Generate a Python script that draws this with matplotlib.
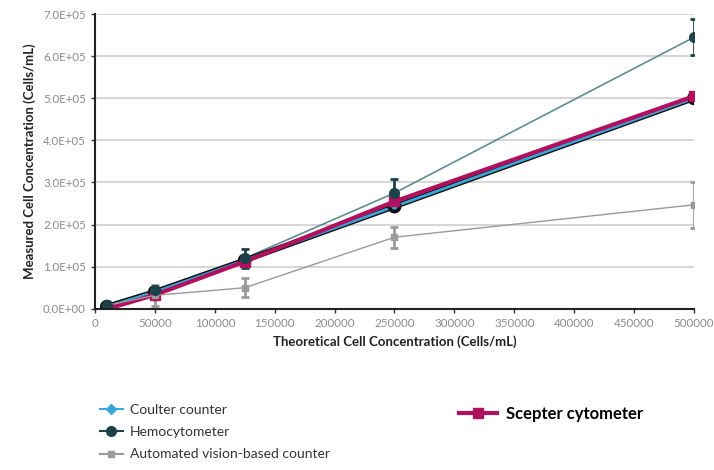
import matplotlib
matplotlib.use("Agg")
import matplotlib.pyplot as plt
import matplotlib.patheffects as pe
from matplotlib.lines import Line2D
from matplotlib.ticker import FuncFormatter

plt.rcParams['font.family'] = ['Lato', 'DejaVu Sans']

# theoretical concentrations (cells/mL)
x_ref = [10000, 50000, 125000, 250000, 500000]
x_scepter = [13000, 50000, 125000, 250000, 500000]

# measured concentrations
coulter = [5000, 40000, 115000, 243000, 500000]
hemo = [10000, 45000, 120000, 275000, 645000]
hemo_err = [4000, 5000, 22000, 33000, 43000]
auto = [8000, 32000, 50000, 170000, 247000]
auto_err = [3000, 25000, 22000, 25000, 55000]
scepter = [2000, 33000, 112000, 255000, 505000]

x_ticks = [0, 50000, 100000, 150000, 200000, 250000, 300000, 350000, 400000, 450000, 500000]
y_ticks = [0, 100000, 200000, 300000, 400000, 500000, 600000, 700000]

fig = plt.figure(figsize=(7.14, 4.70), dpi=100)
ax = fig.add_axes([0.133, 0.343, 0.839, 0.627])

# automated counter (light gray)
ax.errorbar(x_ref, auto, yerr=auto_err, color='#9a9a9a', lw=1.0,
            marker='s', ms=5, capsize=3, elinewidth=2, capthick=2)
# hemocytometer: thin teal line, dark markers and error bars
ax.plot(x_ref, hemo, color='#5f8c90', lw=1.2)
ax.errorbar(x_ref, hemo, yerr=hemo_err, color='#1c4349', ls='none',
            marker='o', ms=7, capsize=3, elinewidth=2, capthick=2)
# coulter counter (light blue, dark outline)
ax.plot(x_ref, coulter, color='#3aa6d8', lw=2, marker='o', ms=6,
        mec='#111111', mew=1.5,
        path_effects=[pe.Stroke(linewidth=4, foreground='#111111'), pe.Normal()])
# scepter (magenta)
ax.plot(x_scepter, scepter, color='#b0105e', lw=3, marker='s', ms=7)

ax.set_xlim(0, 500000)
ax.set_ylim(0, 700000)
ax.set_xticks(x_ticks)
ax.set_yticks(y_ticks)
ax.xaxis.set_major_formatter(FuncFormatter(lambda v, p: '%d' % v))
ax.yaxis.set_major_formatter(FuncFormatter(lambda v, p: '%.1fE+05' % (v / 1e5) if v > 0 else '0.0E+00'))
ax.tick_params(labelsize=8.3, colors='#333333', labelcolor='#8a8a8a', length=3, width=1)
ax.grid(axis='y', color='#d0d0d0', lw=1.2)
ax.set_axisbelow(True)
for s in ['top', 'right']:
    ax.spines[s].set_visible(False)
for s in ['left', 'bottom']:
    ax.spines[s].set_linewidth(1.5)
    ax.spines[s].set_color('#222222')

ax.set_xlabel('Theoretical Cell Concentration (Cells/mL)', fontsize=9.5, fontweight='bold', color='#222222', labelpad=5)
ax.set_ylabel('Measured Cell Concentration (Cells/mL)', fontsize=9.5, fontweight='bold', color='#222222', labelpad=5)

# legends
h1 = [Line2D([], [], color='#3aa6d8', marker='D', ms=5, lw=1.5),
      Line2D([], [], color='#1c4349', marker='o', ms=7, lw=1.5),
      Line2D([], [], color='#9a9a9a', marker='s', ms=5, lw=1.5)]
fig.legend(h1, ['Coulter counter', 'Hemocytometer', 'Automated vision-based counter'],
           loc='upper left', bbox_to_anchor=(0.122, 0.168), frameon=False,
           fontsize=10, handlelength=1.7, handletextpad=0.5, labelspacing=0.75,
           labelcolor='#333333')
h2 = [Line2D([], [], color='#b0105e', marker='s', ms=7, lw=3)]
fig.legend(h2, ['Scepter cytometer'], loc='upper left', bbox_to_anchor=(0.622, 0.168),
           frameon=False, handlelength=2.3, handletextpad=0.5,
           prop={'weight': 'bold', 'size': 12})

fig.savefig('out.png', dpi=100)
